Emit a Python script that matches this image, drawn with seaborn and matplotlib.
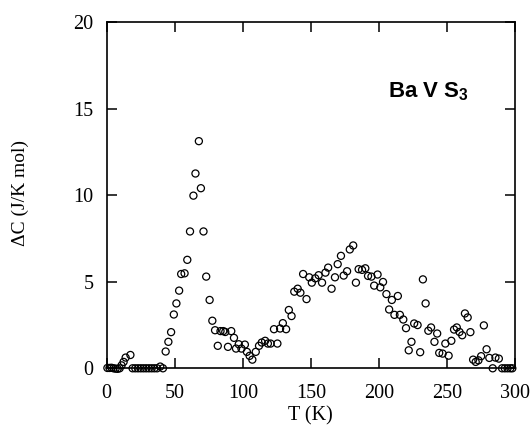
import matplotlib
matplotlib.use("Agg")
import matplotlib.pyplot as plt
import seaborn as sns
import pandas as pd
import numpy as np

# temperature (K) and excess specific heat (J/K mol)
T = [0.5, 2, 3.5, 5, 6.5, 8, 9.5, 10.9, 12.4, 13.9, 17.4,
     19, 21, 23, 25, 27, 29, 31, 33, 35, 37, 39.3, 41.3,
     43.3, 45.3, 47.3, 49.3, 51.2, 53.2, 54.7, 57.2, 59.2, 61.2, 63.7, 65.2,
     67.7, 69.2, 71.1, 73.1, 75.6, 77.6, 79.6, 81.6, 83.6, 85.6, 87.1, 89.1,
     91.5, 93.5, 95.0, 97.0, 99.0, 101.5, 103.0, 105.0, 107.0, 109.5, 111.9,
     113.9, 116.4, 118.4, 120.4, 122.9, 125.4, 127.4, 129.4, 131.8, 133.8,
     135.8, 137.8, 140.3, 142.3, 144.3, 146.8, 148.8, 150.7, 153.2, 155.7,
     158.2, 160.7, 162.7, 165.2, 167.7, 169.7, 172.1, 174.1, 176.6, 178.6,
     181.1, 183.1, 185.1, 187.6, 190.0, 192.0, 194.5, 196.5, 199.0, 201.0,
     203.0, 205.5, 207.5, 209.5, 211.4, 213.9, 215.4, 217.9, 219.9, 221.9,
     223.9, 225.9, 228.4, 230.3, 232.3, 234.3, 236.3, 238.3, 240.8, 242.8,
     244.3, 246.8, 248.8, 251.2, 253.2, 255.2, 257.2, 259.2, 261.2, 263.2,
     265.2, 267.2, 269.2, 271.1, 273.1, 275.1, 277.1, 279.1, 281.1, 283.6,
     285.6, 288.1, 290.5, 292.5, 294.5, 296.5, 298.0]
dC = [0.02, 0.02, 0.03, 0.0, -0.02, -0.03, 0.0, 0.17, 0.37, 0.62, 0.77,
      0, 0, 0, 0, 0, 0, 0, 0, 0, 0, 0.1, 0.0,
      0.97, 1.53, 2.09, 3.11, 3.75, 4.49, 5.45, 5.49, 6.27, 7.91, 9.98, 11.26,
      13.13, 10.41, 7.91, 5.30, 3.95, 2.75, 2.20, 1.30, 2.15, 2.15, 2.10, 1.24,
      2.15, 1.76, 1.14, 1.39, 1.14, 1.37, 0.95, 0.72, 0.50, 0.95, 1.30,
      1.49, 1.59, 1.43, 1.43, 2.26, 1.43, 2.30, 2.61, 2.26, 3.37,
      3.02, 4.43, 4.60, 4.37, 5.45, 4.00, 5.26, 4.95, 5.20, 5.38,
      4.95, 5.53, 5.82, 4.60, 5.26, 6.02, 6.50, 5.36, 5.61, 6.87,
      7.10, 4.95, 5.73, 5.69, 5.78, 5.34, 5.30, 4.78, 5.42, 4.68,
      4.99, 4.29, 3.40, 3.95, 3.09, 4.18, 3.09, 2.82, 2.32, 1.04,
      1.53, 2.59, 2.50, 0.93, 5.14, 3.75, 2.17, 2.36, 1.53, 2.01,
      0.89, 0.85, 1.43, 0.73, 1.59, 2.24, 2.36, 2.10, 1.91, 3.17,
      2.94, 2.09, 0.50, 0.37, 0.46, 0.70, 2.48, 1.10, 0.60, 0.0,
      0.62, 0.56, 0.0, 0.0, 0.0, 0.0, 0.0]

x_ticks = [0, 50, 100, 150, 200, 250, 300]
y_ticks = [0, 5, 10, 15, 20]

df = pd.DataFrame({"T": T, "dC": dC})

sns.set_style("ticks")
plt.rcParams["font.family"] = ["Liberation Serif", "DejaVu Serif"]
plt.rcParams["mathtext.fontset"] = "custom"
plt.rcParams["mathtext.bf"] = "Liberation Sans:bold"
plt.rcParams["mathtext.rm"] = "Liberation Sans:bold"
plt.rcParams["text.color"] = "black"
plt.rcParams["axes.labelcolor"] = "black"

fig = plt.figure(figsize=(5.32, 4.29), dpi=100)
ax = fig.add_axes([0.2006, 0.1415, 0.7675, 0.8065])

sns.scatterplot(data=df, x="T", y="dC", ax=ax, s=26, marker="o",
                facecolor="none", edgecolor="black", linewidth=0.9,
                clip_on=False, zorder=3)

ax.set_xlim(0, 300)
ax.set_ylim(0, 20)
ax.set_xticks(x_ticks)
ax.set_yticks(y_ticks)
ax.tick_params(direction="in", length=7, width=1.1, top=True, right=True,
               labelsize=14.5, colors="black")
ax.tick_params(axis="x", pad=11)
ax.tick_params(axis="y", pad=9.5)
for sp in ax.spines.values():
    sp.set_linewidth(1.2)
    sp.set_color("black")

ax.set_xlabel("T (K)", fontsize=14.5, va="center")
ax.xaxis.set_label_coords(0.5, -0.138)
ax.set_ylabel("\u0394C (J/K mol)", fontsize=14, va="center")
ax.yaxis.set_label_coords(-0.212, 0.508)

ax.text(0.69, 0.80, r"$\mathbf{Ba\;V\;S_3}$", transform=ax.transAxes,
        fontsize=16, color="black", ha="left", va="center")

fig.savefig("out.png", dpi=100)
